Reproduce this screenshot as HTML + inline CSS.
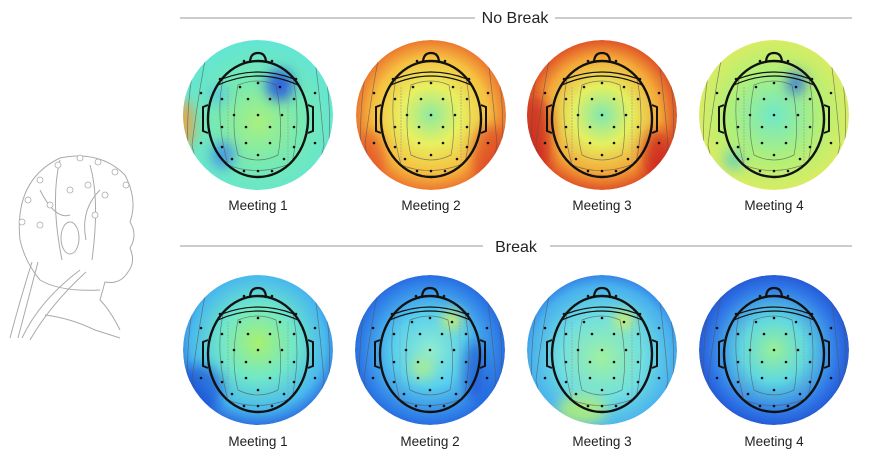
<!DOCTYPE html>
<html><head><meta charset="utf-8">
<style>
html,body{margin:0;padding:0;background:#fff;}
body{width:872px;height:467px;position:relative;overflow:hidden;font-family:"Liberation Sans",sans-serif;}
svg{position:absolute;left:0;top:0;}
</style></head><body>
<svg width="872" height="467" viewBox="0 0 872 467" xmlns="http://www.w3.org/2000/svg">
<defs>
<filter id="bl" x="-50%" y="-50%" width="200%" height="200%"><feGaussianBlur stdDeviation="6"/></filter>
<clipPath id="cc"><circle cx="0" cy="0" r="75"/></clipPath>
<radialGradient id="bg1" cx="0.5" cy="0.55" r="0.6"><stop offset="0" stop-color="#a8f080"/><stop offset="0.45" stop-color="#78eab0"/><stop offset="1" stop-color="#5ee4dc"/></radialGradient>
<radialGradient id="bg2" cx="0.5" cy="0.5" r="0.55"><stop offset="0" stop-color="#8eeaa0"/><stop offset="0.35" stop-color="#e8f060"/><stop offset="0.7" stop-color="#f6c040"/><stop offset="1" stop-color="#e85a28"/></radialGradient>
<radialGradient id="bg3" cx="0.5" cy="0.5" r="0.55"><stop offset="0" stop-color="#80e8b0"/><stop offset="0.35" stop-color="#e4f060"/><stop offset="0.7" stop-color="#f4a838"/><stop offset="1" stop-color="#d83020"/></radialGradient>
<radialGradient id="bg4" cx="0.5" cy="0.5" r="0.6"><stop offset="0" stop-color="#70e8c8"/><stop offset="0.5" stop-color="#b0f078"/><stop offset="1" stop-color="#ecea58"/></radialGradient>
<radialGradient id="bb1" cx="0.5" cy="0.45" r="0.6"><stop offset="0" stop-color="#a8f070"/><stop offset="0.4" stop-color="#70e8c8"/><stop offset="0.75" stop-color="#48b8ee"/><stop offset="1" stop-color="#2050d8"/></radialGradient>
<radialGradient id="bb2" cx="0.5" cy="0.5" r="0.6"><stop offset="0" stop-color="#90ecd0"/><stop offset="0.4" stop-color="#58d0ee"/><stop offset="0.75" stop-color="#3080e8"/><stop offset="1" stop-color="#1848d0"/></radialGradient>
<radialGradient id="bb3" cx="0.5" cy="0.55" r="0.6"><stop offset="0" stop-color="#a0f0a0"/><stop offset="0.45" stop-color="#70e0e0"/><stop offset="0.8" stop-color="#48b0ee"/><stop offset="1" stop-color="#2868e0"/></radialGradient>
<radialGradient id="bb4" cx="0.5" cy="0.5" r="0.6"><stop offset="0" stop-color="#98f098"/><stop offset="0.35" stop-color="#60d8e0"/><stop offset="0.7" stop-color="#3078e8"/><stop offset="1" stop-color="#1838c0"/></radialGradient>
<g id="head">
<ellipse cx="0" cy="4" rx="50" ry="58" fill="none" stroke="#111" stroke-width="2.4"/>
<path d="M-8,-52 Q-8,-62 0,-62 Q8,-62 8,-52" fill="none" stroke="#111" stroke-width="2.2"/>
<path d="M-50,-10 L-55,-8 L-55,16 L-50,18 M50,-10 L55,-8 L55,16 L50,18" fill="none" stroke="#111" stroke-width="2"/>
<path d="M-40,-30 Q0,-48 40,-30 M-36,-36 Q0,-50 36,-36" fill="none" stroke="#111" stroke-width="1.2"/>
<path d="M-30,-28 L-30,50 M30,-28 L30,50" fill="none" stroke="#999" stroke-width="0.6" stroke-dasharray="2,1"/>
<g fill="#111">
<circle cx="-14" cy="-54" r="1.3"/><circle cx="14" cy="-54" r="1.3"/>
<circle cx="-38" cy="-36" r="1.3"/><circle cx="38" cy="-36" r="1.3"/>
<circle cx="-18" cy="-28" r="1.3"/><circle cx="0" cy="-32" r="1.3"/><circle cx="22" cy="-28" r="1.3"/>
<circle cx="-57" cy="-22" r="1.3"/><circle cx="57" cy="-22" r="1.3"/>
<circle cx="-36" cy="-16" r="1.3"/><circle cx="-10" cy="-16" r="1.3"/><circle cx="12" cy="-16" r="1.3"/><circle cx="36" cy="-16" r="1.3"/>
<circle cx="-24" cy="0" r="1.3"/><circle cx="0" cy="0" r="1.3"/><circle cx="24" cy="0" r="1.3"/>
<circle cx="-36" cy="12" r="1.3"/><circle cx="-12" cy="12" r="1.3"/><circle cx="12" cy="12" r="1.3"/><circle cx="36" cy="12" r="1.3"/>
<circle cx="-57" cy="28" r="1.3"/><circle cx="57" cy="28" r="1.3"/>
<circle cx="-36" cy="32" r="1.3"/><circle cx="-12" cy="28" r="1.3"/><circle cx="12" cy="28" r="1.3"/><circle cx="36" cy="32" r="1.3"/>
<circle cx="-26" cy="44" r="1.3"/><circle cx="0" cy="40" r="1.3"/><circle cx="26" cy="44" r="1.3"/>
<circle cx="-14" cy="56" r="1.3"/><circle cx="0" cy="56" r="1.3"/><circle cx="14" cy="56" r="1.3"/>
</g></g>
<g id="contours" fill="none" stroke="#555" stroke-width="0.7" opacity="0.7">
<path d="M-50,-70 Q-60,-20 -66,30 Q-60,60 -50,75"/>
<path d="M55,-70 Q62,-20 66,30 Q60,60 48,75"/>
<path d="M-20,-30 Q-28,10 -20,40 Q0,50 20,40 Q26,10 18,-30 Q0,-38 -20,-30Z"/>
<path d="M-34,-40 Q-44,0 -30,50 Q0,62 34,48 Q44,0 34,-40"/>
<path d="M-66,-40 Q-72,0 -70,40"/><path d="M68,-40 Q74,0 70,40"/>
</g>
</defs>
<g fill="#222" font-size="14" text-anchor="middle">
<line x1="180" y1="18" x2="475" y2="18" stroke="#999" stroke-width="1"/>
<line x1="555" y1="18" x2="852" y2="18" stroke="#999" stroke-width="1"/>
<text x="515" y="23" font-size="16">No Break</text>
<line x1="180" y1="246" x2="483" y2="246" stroke="#999" stroke-width="1"/>
<line x1="550" y1="246" x2="852" y2="246" stroke="#999" stroke-width="1"/>
<text x="516" y="252" font-size="16">Break</text>
<g font-size="13.5">
<text x="258" y="210">Meeting 1</text>
<text x="431" y="210">Meeting 2</text>
<text x="602" y="210">Meeting 3</text>
<text x="774" y="210">Meeting 4</text>
<text x="258" y="446">Meeting 1</text>
<text x="430" y="446">Meeting 2</text>
<text x="602" y="446">Meeting 3</text>
<text x="774" y="446">Meeting 4</text>
</g></g>
<!-- top row -->
<g transform="translate(258,115)"><g clip-path="url(#cc)"><circle r="75" fill="url(#bg1)"/>
<g filter="url(#bl)">
<ellipse cx="22" cy="-30" rx="14" ry="16" fill="#2a5ae0" opacity="0.9"/>
<ellipse cx="-35" cy="40" rx="12" ry="14" fill="#3c8cee" opacity="0.8"/>
<ellipse cx="-74" cy="10" rx="10" ry="25" fill="#f0a040" opacity="0.9"/>
<ellipse cx="-40" cy="-20" rx="10" ry="10" fill="#50c0e8" opacity="0.7"/></g>
<use href="#contours"/></g><use href="#head"/></g>
<g transform="translate(431,115)"><g clip-path="url(#cc)"><circle r="75" fill="url(#bg2)"/>
<g filter="url(#bl)"><ellipse cx="60" cy="40" rx="20" ry="30" fill="#d83020" opacity="0.6"/>
<ellipse cx="-60" cy="40" rx="15" ry="25" fill="#e04020" opacity="0.5"/></g>
<use href="#contours"/></g><use href="#head"/></g>
<g transform="translate(602,115)"><g clip-path="url(#cc)"><circle r="75" fill="url(#bg3)"/>
<g filter="url(#bl)"><ellipse cx="-65" cy="20" rx="15" ry="40" fill="#c82018" opacity="0.7"/>
<ellipse cx="55" cy="40" rx="15" ry="25" fill="#c82018" opacity="0.7"/></g>
<use href="#contours"/></g><use href="#head"/></g>
<g transform="translate(774,115)"><g clip-path="url(#cc)"><circle r="75" fill="url(#bg4)"/>
<g filter="url(#bl)"><ellipse cx="22" cy="-32" rx="10" ry="12" fill="#3070e0" opacity="0.8"/>
<ellipse cx="-40" cy="45" rx="10" ry="10" fill="#50c8d0" opacity="0.7"/></g>
<use href="#contours"/></g><use href="#head"/></g>
<!-- bottom row -->
<g transform="translate(258,350)"><g clip-path="url(#cc)"><circle r="75" fill="url(#bb1)"/>
<g filter="url(#bl)"><ellipse cx="-60" cy="40" rx="25" ry="25" fill="#1840d0" opacity="0.6"/></g>
<use href="#contours"/></g><use href="#head"/></g>
<g transform="translate(430,350)"><g clip-path="url(#cc)"><circle r="75" fill="url(#bb2)"/>
<g filter="url(#bl)"><ellipse cx="22" cy="-30" rx="10" ry="10" fill="#d8f060" opacity="0.9"/>
<ellipse cx="-8" cy="18" rx="12" ry="12" fill="#b8f080" opacity="0.7"/>
<ellipse cx="45" cy="20" rx="12" ry="30" fill="#1840d0" opacity="0.6"/></g>
<use href="#contours"/></g><use href="#head"/></g>
<g transform="translate(602,350)"><g clip-path="url(#cc)"><circle r="75" fill="url(#bb3)"/>
<g filter="url(#bl)"><ellipse cx="22" cy="-30" rx="10" ry="10" fill="#d8f060" opacity="0.9"/>
<ellipse cx="-20" cy="60" rx="25" ry="15" fill="#b8f070" opacity="0.8"/></g>
<use href="#contours"/></g><use href="#head"/></g>
<g transform="translate(774,350)"><g clip-path="url(#cc)"><circle r="75" fill="url(#bb4)"/>
<use href="#contours"/></g><use href="#head"/></g>
<!-- left head illustration -->
<g fill="none" stroke="#aaa" stroke-width="1">
<path d="M20,240 Q14,180 60,158 Q100,150 125,175 Q138,200 130,222 Q138,235 130,248 Q136,262 128,272 Q120,285 105,282 L100,300 Q110,310 120,330"/>
<path d="M20,240 Q25,262 40,280 Q60,292 100,290"/>
<path d="M32,262 Q20,300 10,338 M38,262 Q28,300 18,338 M80,270 Q40,300 22,338 M86,272 Q50,305 30,340"/>
<path d="M45,315 Q70,318 95,330 L120,338"/>
<ellipse cx="70" cy="238" rx="9" ry="16"/>
<path d="M90,165 Q100,200 92,260 M60,160 Q50,200 62,260 M40,190 Q55,220 70,215 M100,190 Q80,210 86,240"/>
</g>
<g fill="#fff" stroke="#aaa" stroke-width="0.8">
<circle cx="28" cy="200" r="3"/><circle cx="40" cy="180" r="3"/><circle cx="58" cy="165" r="3"/><circle cx="80" cy="158" r="3"/><circle cx="98" cy="162" r="3"/><circle cx="115" cy="172" r="3"/><circle cx="126" cy="185" r="3"/>
<circle cx="50" cy="205" r="3"/><circle cx="70" cy="190" r="3"/><circle cx="88" cy="185" r="3"/><circle cx="105" cy="195" r="3"/><circle cx="40" cy="225" r="3"/><circle cx="95" cy="215" r="3"/><circle cx="22" cy="222" r="3"/>
</g>
</svg>
</body></html>
